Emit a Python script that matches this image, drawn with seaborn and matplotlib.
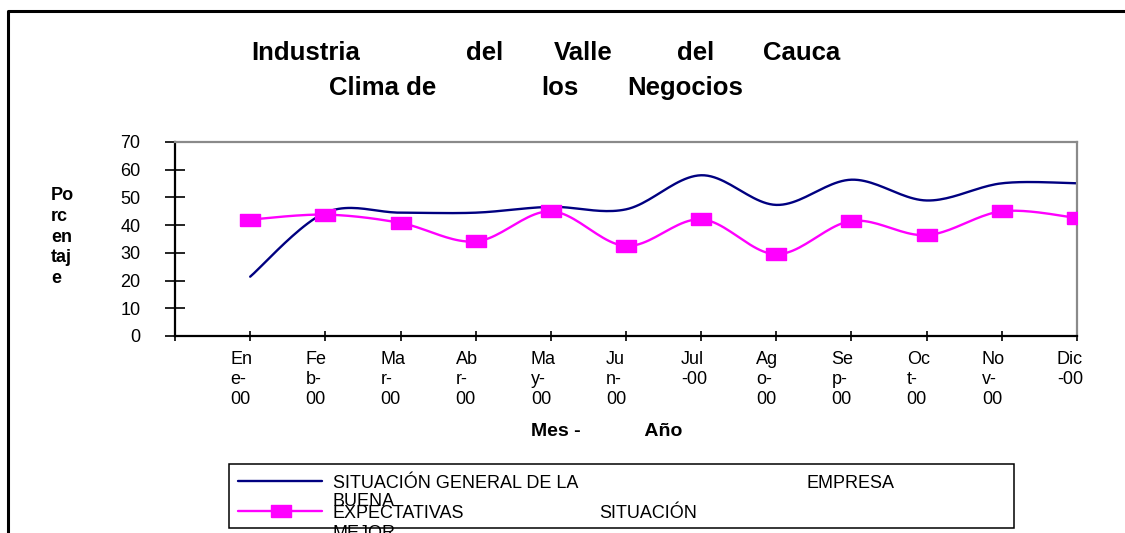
import numpy as np
import pandas as pd
import matplotlib
matplotlib.use("Agg")
import matplotlib.pyplot as plt
import matplotlib.transforms as mtransforms
from matplotlib.lines import Line2D
from matplotlib.patches import Rectangle
import seaborn as sns

# ---- data -------------------------------------------------------------
months = ["En\ne-\n00", "Fe\nb-\n00", "Ma\nr-\n00", "Ab\nr-\n00", "Ma\ny-\n00",
          "Ju\nn-\n00", "Jul\n-00", "Ag\no-\n00", "Se\np-\n00", "Oc\nt-\n00",
          "No\nv-\n00", "Dic\n-00"]
situacion_general = [21.4, 44.5, 44.5, 44.5, 46.6, 45.7, 58.0, 47.3, 56.4, 48.9, 55.1, 55.1]
expectativas = [42.0, 43.8, 40.8, 34.1, 45.0, 32.5, 42.1, 29.5, 41.5, 36.4, 45.0, 42.6]
y_ticks = [0, 10, 20, 30, 40, 50, 60, 70]

BLUE = "#000080"
PINK = "#FF00FF"

sns.set_theme(style="white")
plt.rcParams["font.family"] = ["Liberation Sans", "DejaVu Sans"]
plt.rcParams["text.color"] = "black"
plt.rcParams["axes.labelcolor"] = "black"
plt.rcParams["xtick.color"] = "black"
plt.rcParams["ytick.color"] = "black"

W, H = 1125, 533
fig = plt.figure(figsize=(W / 100, H / 100), dpi=100)


def fx(px):
    return px / W


def fy(py):
    return 1 - py / H


def smooth(xs, ys, n=24):
    """Catmull-Rom style smoothing (Bezier segments) through the points."""
    xs = np.asarray(xs, float)
    ys = np.asarray(ys, float)
    px = np.concatenate([[xs[0]], xs, [xs[-1]]])
    py = np.concatenate([[ys[0]], ys, [ys[-1]]])
    out_x, out_y = [], []
    t = np.linspace(0, 1, n)
    for i in range(1, len(px) - 2):
        p0x, p1x, p2x, p3x = px[i - 1], px[i], px[i + 1], px[i + 2]
        p0y, p1y, p2y, p3y = py[i - 1], py[i], py[i + 1], py[i + 2]
        c1x, c1y = p1x + (p2x - p0x) / 6, p1y + (p2y - p0y) / 6
        c2x, c2y = p2x - (p3x - p1x) / 6, p2y - (p3y - p1y) / 6
        bx = (1 - t) ** 3 * p1x + 3 * (1 - t) ** 2 * t * c1x + 3 * (1 - t) * t ** 2 * c2x + t ** 3 * p2x
        by = (1 - t) ** 3 * p1y + 3 * (1 - t) ** 2 * t * c1y + 3 * (1 - t) * t ** 2 * c2y + t ** 3 * p2y
        if i > 1:
            bx, by = bx[1:], by[1:]
        out_x.append(bx)
        out_y.append(by)
    return np.concatenate(out_x), np.concatenate(out_y)


# ---- plot area --------------------------------------------------------
left, right, top, bottom = 175, 1077, 142, 336
ax = fig.add_axes([fx(left), fy(bottom), (right - left) / W, (bottom - top) / H])

xpos = np.arange(len(months))
gx, gy = smooth(xpos, situacion_general)
ex, ey = smooth(xpos, expectativas)
curves = pd.concat([
    pd.DataFrame({"x": gx, "y": gy, "serie": "general"}),
    pd.DataFrame({"x": ex, "y": ey, "serie": "expectativas"}),
])
sns.lineplot(data=curves, x="x", y="y", hue="serie", units="serie", estimator=None,
             sort=False, palette={"general": BLUE, "expectativas": PINK},
             legend=False, ax=ax, linewidth=1.7)

rect_marker = [(-1, -0.55), (1, -0.55), (1, 0.55), (-1, 0.55), (-1, -0.55)]
ax.plot(xpos, expectativas, ls="none", marker=rect_marker, ms=15,
        mfc=PINK, mec=PINK, zorder=5)

ax.set_xlim(-1, len(months) - 1)
ax.set_ylim(0, 70)
ax.set_yticks(y_ticks)
ax.set_yticklabels([str(v) for v in y_ticks])
ax.set_xticks(np.arange(-1, len(months)))
ax.set_xticklabels([""] + months)

ax.tick_params(axis="y", direction="inout", length=13.7, width=1.2, pad=18,
               labelsize=13, colors="black", left=True)
ax.tick_params(axis="x", direction="inout", length=7.2, width=1.2, pad=7.5,
               labelsize=13, colors="black", bottom=True)
offset = mtransforms.ScaledTranslation(-20 / 100, 0, fig.dpi_scale_trans)
for lab in ax.get_xticklabels():
    lab.set_horizontalalignment("left")
    lab.set_linespacing(1.2)
    lab.set_transform(lab.get_transform() + offset)

for side in ("left", "bottom"):
    ax.spines[side].set_color("black")
    ax.spines[side].set_linewidth(1.6)
for side in ("top", "right"):
    ax.spines[side].set_color("#8a8a8a")
    ax.spines[side].set_linewidth(1.6)
ax.grid(False)
ax.set_ylabel("")

ax.set_xlabel("Mes -            Año", fontsize=14, fontweight="bold")
ax.xaxis.set_label_coords((607 - left) / (right - left), -(432 - bottom) / (bottom - top))
ax.xaxis.label.set_verticalalignment("center")

# ---- y axis title, one syllable per line ------------------------------
fig.text(fx(51), fy(237), "Po\nrc\nen\ntaj\ne", fontsize=13, fontweight="bold",
         ha="left", va="center", linespacing=1.3)

# ---- title -----------------------------------------------------------
for word, x in [("Industria", 251), ("del", 466), ("Valle", 554), ("del", 677), ("Cauca", 763)]:
    fig.text(fx(x), fy(53), word, fontsize=18.5, fontweight="bold", ha="left", va="center")
for word, x in [("Clima de", 329), ("los", 541), ("Negocios", 627)]:
    fig.text(fx(x), fy(88), word, fontsize=18.5, fontweight="bold", ha="left", va="center")

# ---- chart frame -----------------------------------------------------
fig.add_artist(Line2D([fx(8), fx(8), fx(W + 10)], [fy(H + 10), fy(11), fy(11)],
                      transform=fig.transFigure, color="black", lw=2.2))

# ---- legend ----------------------------------------------------------
fig.add_artist(Rectangle((fx(229), fy(528)), fx(1014) - fx(229), fy(464) - fy(528),
                         transform=fig.transFigure, fill=False, edgecolor="black", lw=1.1))
fig.add_artist(Line2D([fx(238), fx(322)], [fy(481), fy(481)], transform=fig.transFigure,
                      color=BLUE, lw=1.7))
fig.add_artist(Line2D([fx(238), fx(322)], [fy(511), fy(511)], transform=fig.transFigure,
                      color=PINK, lw=1.7))
fig.add_artist(Line2D([fx(281)], [fy(511)], transform=fig.transFigure, ls="none",
                      marker=rect_marker, ms=15, mfc=PINK, mec=PINK))
legend_words = [
    ("SITUACIÓN GENERAL DE LA", 333, 483),
    ("EMPRESA", 807, 483),
    ("BUENA", 333, 502),
    ("EXPECTATIVAS", 333, 513),
    ("SITUACIÓN", 599, 513),
    ("MEJOR", 333, 534),
]
for txt, x, y in legend_words:
    fig.text(fx(x), fy(y), txt, fontsize=13, ha="left", va="center")

fig.savefig("out.png", dpi=100, facecolor="white")
